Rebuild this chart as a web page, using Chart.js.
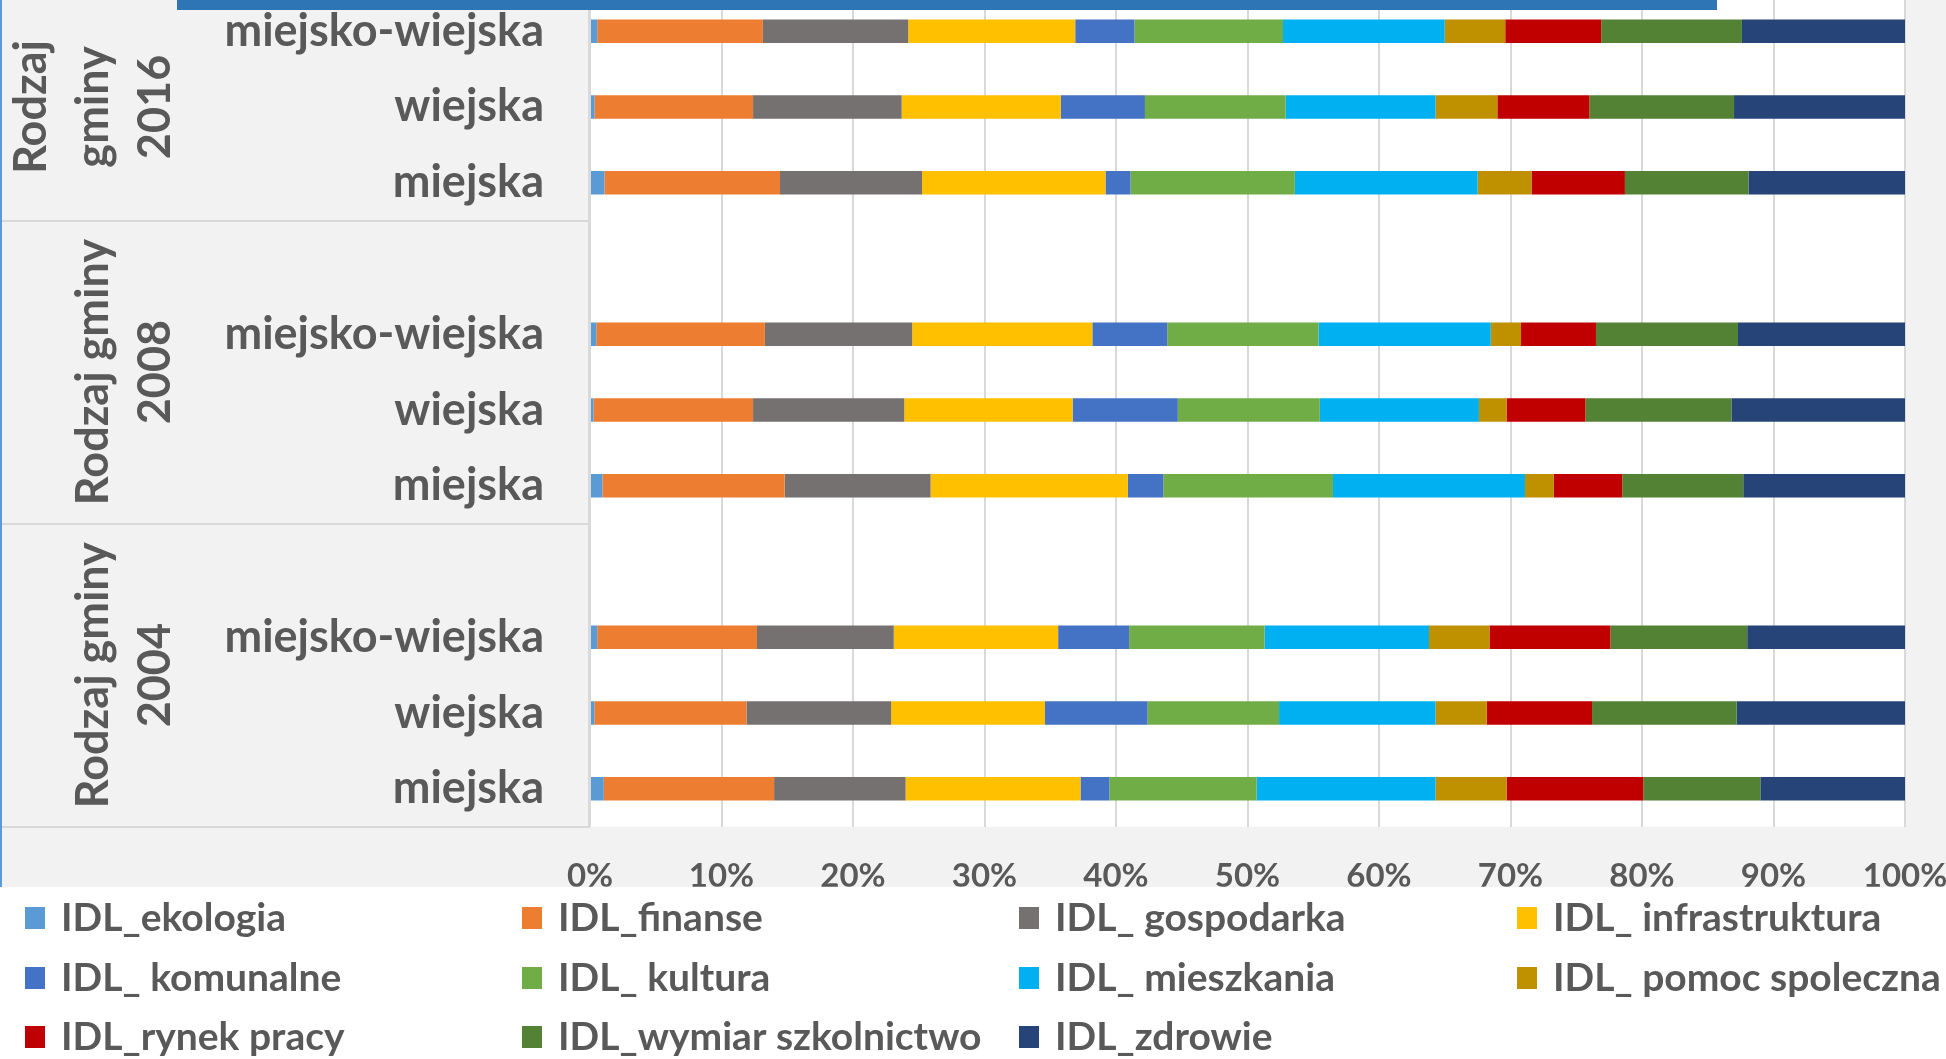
<!DOCTYPE html>
<html><head><meta charset="utf-8">
<script src="https://cdn.jsdelivr.net/npm/chart.js@4.4.1/dist/chart.umd.min.js"></script>
<style>
html,body{margin:0;padding:0;background:#fff;overflow:hidden;width:1946px;height:1059px;}
#wrap{position:absolute;left:0;top:-20px;width:1946px;height:1079px;}
</style></head><body>
<div id="wrap"><canvas id="c" width="1946" height="1079"></canvas></div>
<script>
// ---- data ----
const categories = ['miejsko-wiejska','wiejska','miejska','','miejsko-wiejska','wiejska','miejska','','miejsko-wiejska','wiejska','miejska'];
const groupLabels = [['Rodzaj','gminy','2016'],['Rodzaj gminy','2008'],['Rodzaj gminy','2004']];
const groupFirstRow = [0,3,7];
const groupLastRow = [2,6,10];
const xTickValues = [0,10,20,30,40,50,60,70,80,90,100];
const seriesNames = ['IDL_ekologia','IDL_finanse','IDL_ gospodarka','IDL_ infrastruktura','IDL_ komunalne','IDL_ kultura','IDL_ mieszkania','IDL_ pomoc spoleczna','IDL_rynek pracy','IDL_wymiar szkolnictwo','IDL_zdrowie'];
const seriesColors = ['#5B9BD5','#ED7D31','#767171','#FFC000','#4472C4','#70AD47','#00B0F0','#BF9000','#C00000','#548235','#264478'];
const ekologia       = [0.55,0.35,1.1,null,0.48,0.27,0.95,null,0.55,0.33,1.05];
const finanse        = [12.6,12.05,13.35,null,12.82,12.13,13.85,null,12.15,11.57,12.95];
const gospodarka     = [11.05,11.3,10.8,null,11.2,11.5,11.1,null,10.4,11.0,10.0];
const infrastruktura = [12.7,12.1,13.95,null,13.7,12.8,15.0,null,12.5,11.7,13.3];
const komunalne      = [4.5,6.4,1.9,null,5.7,8.0,2.7,null,5.4,7.8,2.2];
const kultura        = [11.3,10.7,12.5,null,11.5,10.8,12.9,null,10.3,10.0,11.2];
const mieszkania     = [12.3,11.4,13.9,null,13.1,12.1,14.6,null,12.5,11.9,13.6];
const pomocSpoleczna = [4.6,4.7,4.1,null,2.3,2.1,2.2,null,4.6,3.9,5.4];
const rynekPracy     = [7.3,7.0,7.1,null,5.7,6.0,5.2,null,9.2,8.0,10.4];
const szkolnictwo    = [10.7,11.0,9.4,null,10.8,11.1,9.2,null,10.4,11.0,8.9];
const zdrowie        = [12.4,13.0,11.9,null,12.7,13.2,12.3,null,12.0,12.8,11.0];
const seriesValues = [ekologia,finanse,gospodarka,infrastruktura,komunalne,kultura,mieszkania,pomocSpoleczna,rynekPracy,szkolnictwo,zdrowie];

// ---- layout ----
const OFF = 20;            // canvas is shifted up by this many px
const FONT = 'Lato, "Open Sans", sans-serif';
const TXT = '#595959';
const GRID = '#D9D9D9';

const panelPlugin = {
  id: 'panel',
  beforeDraw(chart) {
    const {ctx, chartArea: a, width, height} = chart;
    ctx.save();
    ctx.fillStyle = '#F2F2F2';
    ctx.fillRect(0, 0, width, 887 + OFF);
    ctx.fillStyle = '#FFFFFF';
    ctx.fillRect(0, 887 + OFF, width, height);
    ctx.fillRect(a.left, a.top, a.right - a.left, a.bottom - a.top);
    ctx.fillStyle = '#5B9BD5';
    ctx.fillRect(0, 0, 2, 887 + OFF);
    const slot = (a.bottom - a.top) / categories.length;
    const ys = chart.scales.y;
    ctx.strokeStyle = GRID; ctx.lineWidth = 2;
    ctx.beginPath();
    ctx.moveTo(a.left - 1, a.top); ctx.lineTo(a.left - 1, a.bottom);
    groupLastRow.forEach(r => {
      const yb = Math.round(ys.getPixelForValue(r) + slot / 2);
      ctx.moveTo(2, yb); ctx.lineTo(a.left, yb);
    });
    ctx.stroke();
    ctx.restore();
  },
  afterDraw(chart) {
    const {ctx, chartArea: a} = chart;
    const ys = chart.scales.y;
    const slot = (a.bottom - a.top) / categories.length;
    ctx.save();
    // title box (cut off at top of picture)
    ctx.fillStyle = '#2E75B6';
    ctx.fillRect(177, 0, 1717 - 177, 10 + OFF);
    ctx.fillStyle = TXT;
    ctx.font = 'bold 45px ' + FONT;
    ctx.textAlign = 'center';
    ctx.textBaseline = 'alphabetic';
    groupLabels.forEach((lines, g) => {
      const top = g === 0 ? a.top : ys.getPixelForValue(groupFirstRow[g]) - slot / 2;
      const bot = ys.getPixelForValue(groupLastRow[g]) + slot / 2;
      const cy = (top + bot) / 2;
      const n = lines.length;
      lines.forEach((ln, i) => {
        const bx = 170 - (n - 1 - i) * 62;
        ctx.save();
        ctx.translate(bx, cy);
        ctx.rotate(-Math.PI / 2);
        ctx.fillText(ln, 0, 0);
        ctx.restore();
      });
    });
    ctx.font = 'bold 39px ' + FONT;
    ctx.textAlign = 'left';
    ctx.textBaseline = 'middle';
    const colX = [25, 522, 1019, 1517];
    const rowY = [918, 978, 1037];
    seriesNames.forEach((name, i) => {
      const cx = colX[i % 4], cyy = rowY[Math.floor(i / 4)] + OFF;
      ctx.fillStyle = seriesColors[i];
      ctx.fillRect(cx, cyy - 11, 20, 22);
      ctx.fillStyle = TXT;
      ctx.fillText(name, cx + 36, cyy);
    });
    ctx.restore();
  }
};

const datasets = seriesNames.map((name, i) => ({
  label: name,
  data: seriesValues[i],
  backgroundColor: seriesColors[i],
  borderWidth: 0,
  barPercentage: 0.31,
  categoryPercentage: 1.0
}));

new Chart(document.getElementById('c'), {
  type: 'bar',
  data: { labels: categories, datasets },
  plugins: [panelPlugin],
  options: {
    indexAxis: 'y',
    responsive: false,
    animation: false,
    layout: { padding: { top: 13.3, left: 0, right: 41, bottom: 172.3 } },
    plugins: { legend: { display: false }, tooltip: { enabled: false } },
    scales: {
      x: {
        stacked: true, min: 0, max: 100,
        afterBuildTicks(s) { s.ticks = xTickValues.map(v => ({ value: v })); },
        ticks: { callback: v => v + '%', font: { family: FONT, size: 33, weight: 'bold' }, color: TXT, padding: 30, maxRotation: 0, autoSkip: false },
        grid: { color: GRID, lineWidth: 2, drawTicks: false },
        border: { display: false },
        afterFit(s) { s.height = 60; s.paddingLeft = 0; s.paddingRight = 0; }
      },
      y: {
        stacked: true,
        ticks: { font: { family: FONT, size: 45, weight: 'bold' }, color: TXT, padding: 46, autoSkip: false },
        grid: { display: false, drawTicks: false },
        border: { display: false },
        afterFit(s) { s.width = 590; s.paddingTop = 0; s.paddingBottom = 0; }
      }
    }
  }
});
</script>
</body></html>
